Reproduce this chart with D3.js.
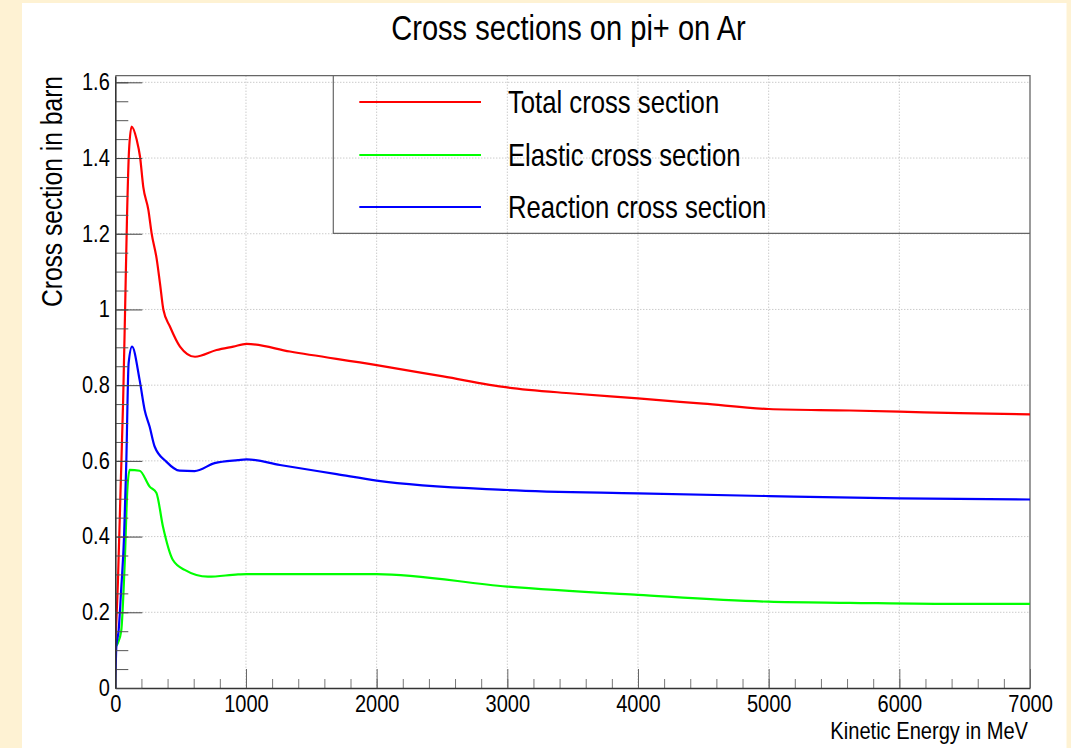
<!DOCTYPE html>
<html>
<head>
<meta charset="utf-8">
<script src="https://cdn.jsdelivr.net/npm/d3@7"></script>
<style>
  body { margin: 0; background: #fef2d3; }
  svg { display: block; }
  text { font-family: "Liberation Sans", Arial, Helvetica, sans-serif; fill: #000; }
</style>
</head>
<body>
<svg id="chart"></svg>
<script>
// values (energy in MeV, cross section in barn)
const totalEnergy = [0, 20, 40, 60, 75, 90, 105, 125, 164, 189, 214, 253, 278, 316, 342, 368, 418, 495, 610, 775, 903, 1005, 1336, 2000, 2509, 3000, 3500, 4000, 4500, 5000, 5620, 6000, 6460, 7000];
const totalXS = [0.12, 0.28, 0.52, 0.76, 1.0, 1.25, 1.42, 1.483, 1.448, 1.404, 1.324, 1.263, 1.201, 1.135, 1.069, 0.999, 0.955, 0.902, 0.875, 0.893, 0.902, 0.909, 0.889, 0.853, 0.823, 0.794, 0.778, 0.765, 0.751, 0.737, 0.733, 0.730, 0.726, 0.723];

const elasticEnergy = [5, 21, 45, 72, 92, 110, 186, 263, 314, 365, 441, 531, 709, 939, 1005, 2000, 3000, 4000, 5000, 5620, 6460, 7000];
const elasticXS = [0.11, 0.12, 0.15, 0.329, 0.523, 0.576, 0.574, 0.532, 0.516, 0.426, 0.338, 0.312, 0.294, 0.300, 0.301, 0.301, 0.268, 0.246, 0.228, 0.225, 0.222, 0.222];

const reactionEnergy = [0, 8, 25, 45, 67, 84, 102, 128, 186, 225, 263, 301, 390, 492, 607, 760, 939, 1005, 1260, 1694, 2000, 3000, 4000, 5000, 6000, 7000];
const reactionXS = [0, 0.11, 0.15, 0.26, 0.40, 0.594, 0.858, 0.902, 0.814, 0.734, 0.69, 0.638, 0.598, 0.574, 0.573, 0.594, 0.602, 0.604, 0.589, 0.565, 0.548, 0.523, 0.514, 0.507, 0.501, 0.498];

const seriesNames = ["Total cross section", "Elastic cross section", "Reaction cross section"];
const seriesColors = ["#ff0000", "#00ff00", "#0000ff"];

const xMajor = [0, 1000, 2000, 3000, 4000, 5000, 6000, 7000];
const yMajor = [0, 0.2, 0.4, 0.6, 0.8, 1, 1.2, 1.4, 1.6];

const width = 1071;
const height = 748;
const frame = { left: 115.3, right: 1030, top: 75.7, bottom: 688 };

const x = d3.scaleLinear([0, 7000], [frame.left, frame.right]);
const y = d3.scaleLinear([0, 1.6175], [frame.bottom, frame.top]);

// ROOT's Helvetica comes out condensed; squeeze the text horizontally
function squeeze(sel, f) {
  sel.each(function () {
    const w = this.getComputedTextLength();
    d3.select(this).attr("textLength", w * f).attr("lengthAdjust", "spacingAndGlyphs");
  });
}

function tickLabels(g) {
  g.selectAll(".tick text")
    .style("font-family", '"Liberation Sans", Arial, sans-serif')
    .style("font-size", "23px")
    .attr("fill", "#000")
    .call(squeeze, 0.87);
}

const svg = d3.select("#chart").attr("width", width).attr("height", height);

// white pad on the cream canvas
svg.append("rect")
  .attr("x", 22).attr("y", 3)
  .attr("width", 1044.5).attr("height", height - 3)
  .attr("fill", "#fff");

// dotted grid
const grid = svg.append("g")
  .attr("stroke", "#b4b4b4")
  .attr("stroke-width", 1)
  .attr("stroke-dasharray", "1,2");
grid.selectAll("line.gx")
  .data(xMajor.filter((d) => d > 0 && d < 7000))
  .join("line")
  .attr("class", "gx")
  .attr("x1", (d) => x(d)).attr("x2", (d) => x(d))
  .attr("y1", frame.top).attr("y2", frame.bottom);
grid.selectAll("line.gy")
  .data(yMajor.filter((d) => d > 0))
  .join("line")
  .attr("class", "gy")
  .attr("y1", (d) => y(d)).attr("y2", (d) => y(d))
  .attr("x1", frame.left).attr("x2", frame.right);

// frame top / right
svg.append("path")
  .attr("d", `M${frame.left},${frame.top}H${frame.right}V${frame.bottom}`)
  .attr("fill", "none")
  .attr("stroke", "#666")
  .attr("stroke-width", 1.3);

// curves
svg.append("clipPath").attr("id", "plot-clip")
  .append("rect")
  .attr("x", frame.left).attr("y", frame.top)
  .attr("width", frame.right - frame.left)
  .attr("height", frame.bottom - frame.top);

const series = [
  d3.zip(totalEnergy, totalXS),
  d3.zip(elasticEnergy, elasticXS),
  d3.zip(reactionEnergy, reactionXS),
];

const line = d3.line()
  .x((d) => x(d[0]))
  .y((d) => y(d[1]))
  .curve(d3.curveMonotoneX);

svg.append("g")
  .attr("clip-path", "url(#plot-clip)")
  .selectAll("path")
  .data(series)
  .join("path")
  .attr("d", line)
  .attr("fill", "none")
  .attr("stroke", (d, i) => seriesColors[i])
  .attr("stroke-width", 2.2)
  .attr("stroke-linejoin", "round");

// x axis: minor then major ticks, pointing inward
svg.append("g")
  .attr("transform", `translate(0,${frame.bottom})`)
  .call(d3.axisBottom(x).tickValues(d3.range(0, 7001, 200)).tickSize(-9).tickSizeOuter(0).tickFormat(""))
  .call((g) => g.select(".domain").remove())
  .call((g) => g.selectAll(".tick line").attr("stroke", "#777"));

svg.append("g")
  .attr("transform", `translate(0,${frame.bottom})`)
  .call(d3.axisBottom(x).tickValues(xMajor).tickSize(-19).tickSizeOuter(0).tickPadding(8).tickFormat(d3.format("d")))
  .call((g) => g.select(".domain").attr("stroke", "#333").attr("stroke-width", 1.6))
  .call((g) => g.selectAll(".tick line").attr("stroke", "#666"))
  .call(tickLabels);

// y axis
svg.append("g")
  .attr("transform", `translate(${frame.left},0)`)
  .call(d3.axisLeft(y).tickValues(d3.range(0, 1.61, 0.05)).tickSize(-13).tickSizeOuter(0).tickFormat(""))
  .call((g) => g.select(".domain").remove())
  .call((g) => g.selectAll(".tick line").attr("stroke", "#555"));

svg.append("g")
  .attr("transform", `translate(${frame.left},0)`)
  .call(d3.axisLeft(y).tickValues(yMajor).tickSize(-27).tickSizeOuter(0).tickPadding(5.5).tickFormat(d3.format("~g")))
  .call((g) => g.select(".domain").attr("stroke", "#333").attr("stroke-width", 1.6))
  .call((g) => g.selectAll(".tick line").attr("stroke", "#444"))
  .call(tickLabels);

// titles
svg.append("text")
  .attr("x", 568.5).attr("y", 40)
  .attr("text-anchor", "middle")
  .attr("font-size", 35)
  .text("Cross sections on pi+ on Ar")
  .call(squeeze, 0.83);

svg.append("text")
  .attr("x", 1028).attr("y", 738.5)
  .attr("text-anchor", "end")
  .attr("font-size", 24.5)
  .text("Kinetic Energy in MeV")
  .call(squeeze, 0.82);

svg.append("text")
  .attr("transform", "translate(61.5,76) rotate(-90)")
  .attr("text-anchor", "end")
  .attr("font-size", 30)
  .text("Cross section in barn")
  .call(squeeze, 0.82);

// legend
svg.append("path")
  .attr("d", `M333.3,${frame.top}V233.3H${frame.right}`)
  .attr("fill", "none")
  .attr("stroke", "#666")
  .attr("stroke-width", 1.2);

const legendY = [102, 155, 207];
const legend = svg.append("g")
  .selectAll("g")
  .data(seriesNames)
  .join("g")
  .attr("transform", (d, i) => `translate(0,${legendY[i]})`);
legend.append("line")
  .attr("x1", 359.3).attr("x2", 481)
  .attr("stroke", (d, i) => seriesColors[i])
  .attr("stroke-width", 2.2);
legend.append("text")
  .attr("x", 508).attr("y", 11.3)
  .attr("font-size", 31.5)
  .text((d) => d)
  .call(squeeze, 0.815);
</script>
</body>
</html>
